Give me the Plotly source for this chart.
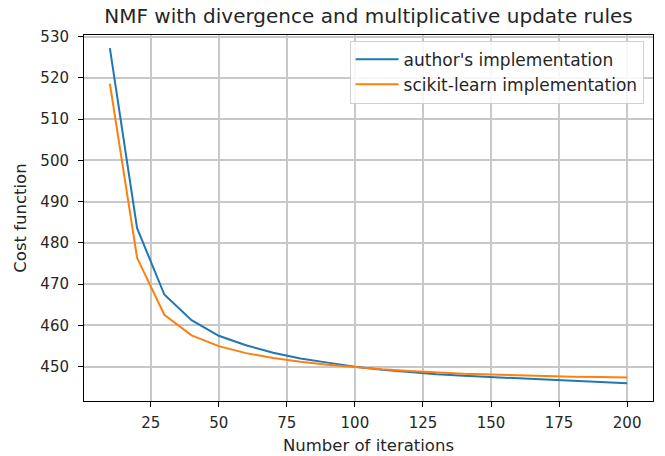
import plotly.graph_objects as go

iterations = [10, 20, 30, 40, 50, 60, 70, 80, 90, 100, 110, 120, 130, 140, 150, 160, 170, 180, 190, 200]
author_cost = [527.2, 483.6, 467.5, 461.3, 457.5, 455.2, 453.4, 452.0, 451.0, 450.0,
               449.3, 448.7, 448.2, 447.8, 447.5, 447.2, 446.9, 446.6, 446.3, 446.0]
sklearn_cost = [518.6, 476.4, 462.6, 457.6, 455.0, 453.3, 452.1, 451.2, 450.5, 449.9,
                449.4, 449.0, 448.6, 448.3, 448.1, 447.9, 447.8, 447.6, 447.5, 447.4]
series_names = ["author's implementation", "scikit-learn implementation"]
x_ticks = [25, 50, 75, 100, 125, 150, 175, 200]
y_ticks = [450, 460, 470, 480, 490, 500, 510, 520, 530]

FONT = "DejaVu Sans"
TXT = "#262626"

fig = go.Figure()
fig.add_trace(go.Scatter(x=iterations, y=author_cost, mode="lines", name=series_names[0],
                         line=dict(color="#1f77b4", width=2)))
fig.add_trace(go.Scatter(x=iterations, y=sklearn_cost, mode="lines", name=series_names[1],
                         line=dict(color="#ff7f0e", width=2)))

axis_common = dict(
    showline=True, linecolor="#000000", linewidth=1, mirror=True,
    ticks="outside", ticklen=5, tickwidth=1, tickcolor="#000000",
    showgrid=True, gridcolor="#c8c8c8", gridwidth=1.5,
    zeroline=False, automargin=False,
    tickfont=dict(family=FONT, size=15, color=TXT),
)

fig.update_layout(
    width=665, height=456,
    margin=dict(l=84, r=12, t=35, b=55),
    paper_bgcolor="white", plot_bgcolor="white",
    title=dict(text="NMF with divergence and multiplicative update rules",
               font=dict(family=FONT, size=20, color=TXT),
               x=0.5, xref="paper", xanchor="center", y=0.965, yanchor="middle"),
    xaxis=dict(range=[0.5, 209.5], tickvals=x_ticks, ticklabelstandoff=3,
               title=dict(text="Number of iterations", standoff=8,
                          font=dict(family=FONT, size=16.5, color=TXT)),
               **axis_common),
    yaxis=dict(range=[441.7, 530.4], tickvals=y_ticks, ticklabelstandoff=6,
               title=dict(text="Cost function", standoff=9,
                          font=dict(family=FONT, size=16.5, color=TXT)),
               **axis_common),
    legend=dict(x=0.9835, y=0.9844, xanchor="right", yanchor="top",
                bgcolor="rgba(255,255,255,0.85)", bordercolor="#d0d0d0", borderwidth=1,
                font=dict(family=FONT, size=17, color=TXT),
                itemwidth=43, tracegroupgap=0),
    showlegend=True,
)

fig.write_html("out.html", config={"displayModeBar": False},
               post_script="document.body.style.margin='0';")
